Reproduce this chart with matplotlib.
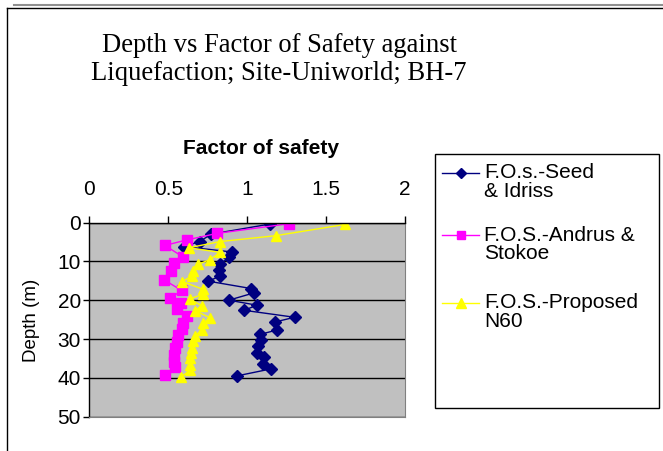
import matplotlib
matplotlib.use('Agg')
from matplotlib import pyplot as plt
from matplotlib.lines import Line2D
from matplotlib.patches import Rectangle

# values
depth_seed = [0.4, 3.0, 4.9, 6.2, 7.6, 9.0, 10.7, 12.3, 13.8, 15.1, 17.0, 18.1, 20.0,
              21.3, 22.6, 24.4, 25.6, 27.7, 28.8, 30.3, 31.9, 33.5, 34.6, 36.4, 37.7, 39.5]
fos_seed = [1.144, 0.772, 0.70, 0.60, 0.905, 0.887, 0.827, 0.82, 0.83, 0.753, 1.025, 1.045, 0.884,
            1.063, 0.98, 1.30, 1.178, 1.186, 1.083, 1.088, 1.07, 1.06, 1.108, 1.099, 1.15, 0.935]

depth_andrus = [0.3, 2.8, 4.5, 5.9, 8.8, 10.3, 12.4, 14.7, 17.5, 19.5, 20.8,
                22.3, 24.2, 26.0, 27.3, 29.0, 30.7, 32.4, 34.1, 35.9, 37.2, 39.2]
fos_andrus = [1.267, 0.81, 0.616, 0.479, 0.591, 0.534, 0.516, 0.471, 0.585, 0.513, 0.58,
              0.553, 0.62, 0.595, 0.585, 0.563, 0.553, 0.542, 0.537, 0.537, 0.542, 0.479]

depth_prop = [0.5, 3.4, 4.9, 6.5, 7.7, 9.6, 10.8, 12.6, 13.8, 15.2, 17.2, 18.5, 19.7,
              21.4, 22.7, 24.5, 26.0, 27.7, 29.2, 30.5, 32.2, 33.5, 35.0, 36.8, 38.0, 39.7]
fos_prop = [1.62, 1.18, 0.83, 0.63, 0.83, 0.762, 0.687, 0.656, 0.648, 0.59, 0.72, 0.718, 0.635,
            0.711, 0.67, 0.764, 0.72, 0.711, 0.669, 0.658, 0.652, 0.645, 0.64, 0.638, 0.64, 0.583]

labels = [('F.O.s.-Seed', '& Idriss'), ('F.O.S.-Andrus &', 'Stokoe'), ('F.O.S.-Proposed', 'N60')]
x_ticks = [0, 0.5, 1, 1.5, 2]
y_ticks = [0, 10, 20, 30, 40, 50]

plt.rcParams['font.family'] = ['Liberation Sans', 'DejaVu Sans']
plt.rcParams['font.size'] = 15

W, H = 663, 451
fig = plt.figure(figsize=(W / 100, H / 100), dpi=100)

def fx(px):
    return px / W

def fy(py):
    return 1 - py / H

# plot area (pixel box 89..405 x 222..417)
ax = fig.add_axes([fx(89.3), fy(416.7), (405 - 89.3) / W, (416.7 - 222.5) / H])
ax.set_facecolor('#C0C0C0')

styles = [dict(color='#000080', marker='D', ms=6.6),
          dict(color='#FF00FF', marker='s', ms=6.5),
          dict(color='#FFFF00', marker='^', ms=7.5)]
series = [(fos_seed, depth_seed), (fos_andrus, depth_andrus), (fos_prop, depth_prop)]
for (xs, ys), st in zip(series, styles):
    ax.plot(xs, ys, lw=1, mfc=st['color'], mec=st['color'], **st)

ax.set_xlim(0, 2)
ax.set_ylim(50, 0)
ax.set_xticks(x_ticks)
ax.set_xticklabels([f'{t:g}' for t in x_ticks])
ax.set_yticks(y_ticks)
ax.xaxis.tick_top()
ax.tick_params(axis='x', direction='out', length=5, width=1, pad=12)
ax.tick_params(axis='y', direction='out', length=4, width=1, pad=2)
ax.yaxis.grid(True, color='black', lw=1)
ax.set_axisbelow(True)
for s in ['right', 'bottom']:
    ax.spines[s].set_color('#808080')
for s in ['left', 'top']:
    ax.spines[s].set_linewidth(1)

fig.text(fx(261), fy(148), 'Factor of safety', ha='center', va='center',
         fontsize=15, fontweight='bold')
fig.text(fx(31), fy(320), 'Depth (m)', ha='center', va='center', rotation=90, fontsize=13.5)

serif = ['Liberation Serif', 'DejaVu Serif']
fig.text(fx(279), fy(45), 'Depth vs Factor of Safety against', ha='center', va='center',
         fontsize=19.2, family=serif)
fig.text(fx(279), fy(73), 'Liquefaction; Site-Uniworld; BH-7', ha='center', va='center',
         fontsize=19.2, family=serif)

# legend box, entries drawn by hand so the key sits on the first text line
fig.patches.append(Rectangle((fx(435), fy(408)), (658.5 - 435) / W, (408 - 154) / H,
                             transform=fig.transFigure, fill=False, ec='black', lw=1))
entry_y = [173, 235, 303]
for (l1, l2), st, yy in zip(labels, styles, entry_y):
    fig.add_artist(Line2D([fx(442), fx(479)], [fy(yy), fy(yy)], lw=1, color=st['color']))
    fig.add_artist(Line2D([fx(460.5)], [fy(yy)], marker=st['marker'], ms=st['ms'] - 1,
                          color=st['color']))
    fig.text(fx(484), fy(yy), l1, ha='left', va='center')
    fig.text(fx(484), fy(yy + 18.5), l2, ha='left', va='center')

# chart border (top and left visible)
fig.add_artist(Line2D([fx(14), 1], [fy(5), fy(5)], color='#909090', lw=1.5))
fig.add_artist(Line2D([fx(7), 1], [fy(7.5), fy(7.5)], color='black', lw=1))
fig.add_artist(Line2D([fx(7), fx(7)], [0, fy(7.5)], color='black', lw=1))

fig.savefig('out.png', dpi=100)
